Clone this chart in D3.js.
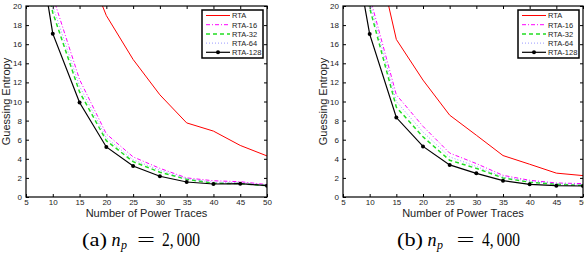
<!DOCTYPE html>
<html>
<head>
  <meta charset="UTF-8">
  <style>
    body { margin: 0; background: #fff; }
    svg { display: block; }
    text { font-family: "Liberation Sans", Arial, sans-serif; fill: #222; }
    text.cap { font-family: "Liberation Serif", "DejaVu Serif", serif; fill: #000; font-size: 18px; }
  </style>
</head>
<body>
  <svg></svg>
  <script src="https://d3js.org/d3.v7.min.js"></script>
  <script>
    let width = 584, height = 256;

    // number of power traces (x)
    const traces = [5, 10, 15, 20, 25, 30, 35, 40, 45, 50];
    const xTicks = [5, 10, 15, 20, 25, 30, 35, 40, 45, 50];
    const yTicks = [0, 2, 4, 6, 8, 10, 12, 14, 16, 18, 20];
    const seriesNames = ["RTA", "RTA-16", "RTA-32", "RTA-64", "RTA-128"];

    // (a) n_p = 2,000
    const geA_RTA    = [45, 38, 26, 19.0, 14.4, 10.7, 7.76, 6.9, 5.4, 4.3];
    const geA_RTA16  = [35, 21, 12.3, 6.6, 4.2, 3.0, 2.0, 1.7, 1.6, 1.3];
    const geA_RTA32  = [34, 19.3, 11.0, 5.9, 3.7, 2.6, 1.85, 1.45, 1.4, 1.2];
    const geA_RTA64  = [34.5, 20, 11.6, 6.2, 3.9, 2.8, 1.9, 1.55, 1.5, 1.25];
    const geA_RTA128 = [34.4, 17.1, 9.9, 5.24, 3.25, 2.17, 1.57, 1.36, 1.4, 1.19];

    // (b) n_p = 4,000
    const geB_RTA    = [40, 28.7, 16.5, 12.24, 8.57, 6.47, 4.34, 3.43, 2.5, 2.24];
    const geB_RTA16  = [36, 21, 10.7, 7.4, 4.6, 3.5, 2.27, 1.75, 1.47, 1.4];
    const geB_RTA32  = [34, 19.8, 9.4, 6.3, 3.85, 3.0, 2.0, 1.55, 1.33, 1.22];
    const geB_RTA64  = [35, 20.4, 10.0, 6.8, 4.2, 3.2, 2.1, 1.65, 1.4, 1.3];
    const geB_RTA128 = [32.7, 17.06, 8.32, 5.3, 3.36, 2.48, 1.71, 1.33, 1.19, 1.15];

    const styles = [
      { color: "#ff0000", dash: null, w: 1 },
      { color: "#ff00ff", dash: "4,2,1,2", w: 1 },
      { color: "#22dd22", dash: "4,3", w: 1.5 },
      { color: "#9999ff", dash: "1,2", w: 1 },
      { color: "#000000", dash: null, w: 1.2, marker: true }
    ];

    let svg = d3.select("svg")
      .attr("width", width)
      .attr("height", height)
      .attr("viewBox", "0 0 " + width + " " + height);

    function drawPanel(left, right, series, id, caption, labelX) {
      let top = 6, bottom = 197;
      let x = d3.scaleLinear().domain([5, 50]).range([left, right]);
      let y = d3.scaleLinear().domain([0, 20]).range([bottom, top]);
      let g = svg.append("g");

      g.append("clipPath").attr("id", id)
        .append("rect")
        .attr("x", left).attr("y", top)
        .attr("width", right - left).attr("height", bottom - top);

      // axes with inward ticks
      g.append("g")
        .attr("transform", "translate(0," + bottom + ")")
        .call(d3.axisBottom(x).tickValues(xTicks).tickSizeInner(-3).tickSizeOuter(0).tickPadding(2))
        .call(a => a.select(".domain").remove())
        .selectAll("text").style("font-size", "8px").attr("fill", "#222");
      g.append("g")
        .attr("transform", "translate(0," + top + ")")
        .call(d3.axisTop(x).tickValues(xTicks).tickSizeInner(-3).tickSizeOuter(0).tickFormat(""))
        .call(a => a.select(".domain").remove());
      g.append("g")
        .attr("transform", "translate(" + left + ",0)")
        .call(d3.axisLeft(y).tickValues(yTicks).tickSizeInner(-3).tickSizeOuter(0).tickPadding(4))
        .call(a => a.select(".domain").remove())
        .selectAll("text").style("font-size", "8px").attr("fill", "#222");
      g.append("g")
        .attr("transform", "translate(" + right + ",0)")
        .call(d3.axisRight(y).tickValues(yTicks).tickSizeInner(-3).tickSizeOuter(0).tickFormat(""))
        .call(a => a.select(".domain").remove());

      let line = d3.line().x((d, i) => x(traces[i])).y(d => y(d));
      let plot = g.append("g").attr("clip-path", "url(#" + id + ")");
      series.forEach((s, k) => {
        let st = styles[k];
        plot.append("path")
          .attr("d", line(s))
          .attr("fill", "none")
          .attr("stroke", st.color)
          .attr("stroke-width", st.w)
          .attr("stroke-dasharray", st.dash);
        if (st.marker) {
          plot.selectAll(".mk")
            .data(s.map((v, i) => [traces[i], v]).filter(d => d[1] <= 20))
            .enter().append("circle")
            .attr("cx", d => x(d[0])).attr("cy", d => y(d[1]))
            .attr("r", 2).attr("fill", "#000");
        }
      });

      g.append("rect")
        .attr("x", left).attr("y", top)
        .attr("width", right - left).attr("height", bottom - top)
        .attr("fill", "none").attr("stroke", "#000").attr("stroke-width", 1.2);

      // legend
      let lx = right - 65, ly = 10;
      let lg = g.append("g");
      lg.append("rect")
        .attr("x", lx).attr("y", ly).attr("width", 61).attr("height", 48)
        .attr("fill", "#fff").attr("stroke", "#000").attr("stroke-width", 1.5);
      seriesNames.forEach((n, k) => {
        let st = styles[k];
        let yy = ly + 5.5 + k * 9.2;
        lg.append("line")
          .attr("x1", lx + 4).attr("x2", lx + 28).attr("y1", yy).attr("y2", yy)
          .attr("stroke", st.color).attr("stroke-width", st.w)
          .attr("stroke-dasharray", st.dash);
        if (st.marker) {
          lg.append("circle").attr("cx", lx + 16).attr("cy", yy).attr("r", 2).attr("fill", "#000");
        }
        lg.append("text")
          .attr("x", lx + 30).attr("y", yy + 2.8)
          .style("font-size", "7.5px")
          .text(n);
      });

      // axis titles
      g.append("text")
        .attr("x", (left + right) / 2).attr("y", 217)
        .attr("text-anchor", "middle")
        .style("font-size", "11px")
        .text("Number of Power Traces");
      g.append("text")
        .attr("transform", "translate(" + labelX + "," + (top + bottom) / 2 + ") rotate(-90)")
        .attr("text-anchor", "middle")
        .style("font-size", "11px")
        .text("Guessing Entropy");

      // caption (latex-like)
      let base = 246;
      g.append("text").attr("class", "cap").attr("x", caption.x0).attr("y", base)
        .attr("textLength", caption.w0).attr("lengthAdjust", "spacingAndGlyphs")
        .text("(" + caption.letter + ")");
      g.append("text").attr("class", "cap").attr("x", caption.x1).attr("y", base)
        .style("font-style", "italic").text("n");
      g.append("text").attr("class", "cap").attr("x", caption.x1 + 9.5).attr("y", base + 3)
        .style("font-style", "italic").style("font-size", "12px").text("p");
      g.append("text").attr("class", "cap").attr("x", caption.x2).attr("y", base)
        .attr("textLength", 18).attr("lengthAdjust", "spacingAndGlyphs").text("=");
      g.append("text").attr("class", "cap").attr("x", caption.x3).attr("y", base)
        .attr("textLength", 38).attr("lengthAdjust", "spacingAndGlyphs").text(caption.num);
    }

    drawPanel(26, 267, [geA_RTA, geA_RTA16, geA_RTA32, geA_RTA64, geA_RTA128], "clipA",
      { letter: "a", num: "2,\u2009000", x0: 82, w0: 25, x1: 111.5, x2: 137, x3: 162 }, 10);
    drawPanel(343, 583, [geB_RTA, geB_RTA16, geB_RTA32, geB_RTA64, geB_RTA128], "clipB",
      { letter: "b", num: "4,\u2009000", x0: 397, w0: 26, x1: 427.5, x2: 456.5, x3: 482 }, 327);
  </script>
</body>
</html>
